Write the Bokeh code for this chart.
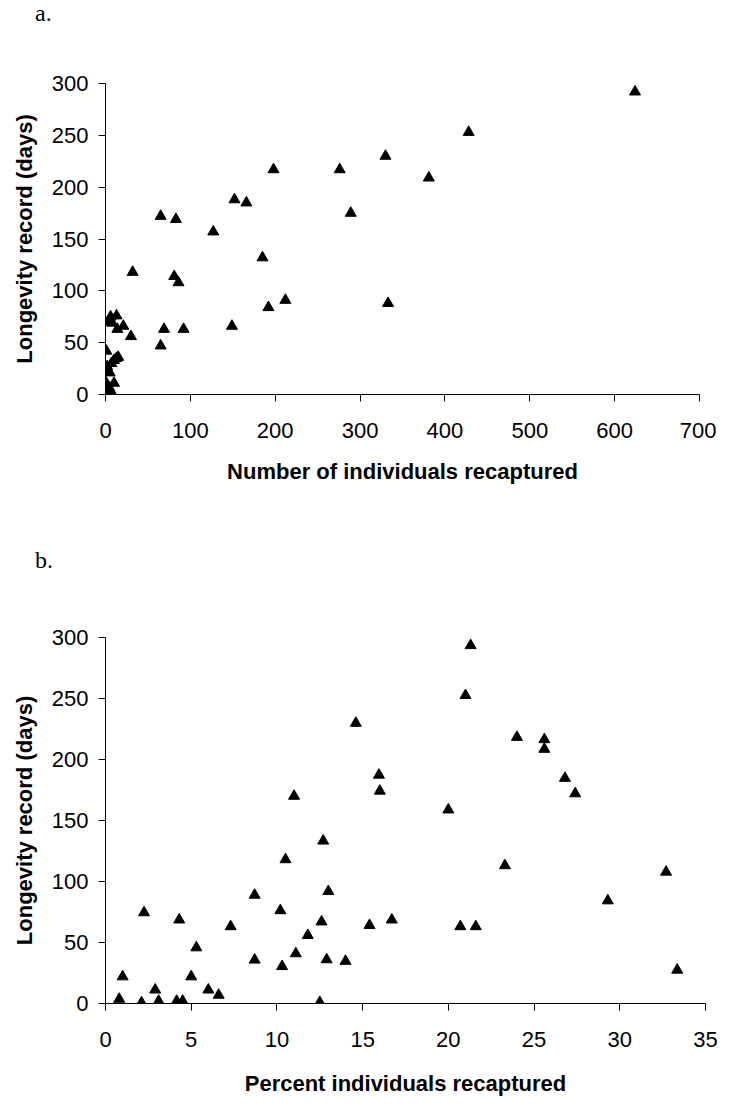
from bokeh.plotting import figure
from bokeh.models import Range1d, FixedTicker, Div
from bokeh.layouts import column
from bokeh.embed import file_html
from bokeh.resources import INLINE

# ---- Panel a: number of individuals recaptured vs longevity record ----
recap_number = [624, 428, 330, 381, 333, 276, 289, 198, 152, 166, 127, 65,
                83, 185, 32, 81, 86, 212, 192, 149, 69, 92, 65, 30,
                6, 13, 3, 8, 14, 21, 1, 15, 13, 10, 7, 2,
                3, 5, 1, 10, 4, 2, 3, 6, 8, 1, 5]
longevity_a = [292, 253, 230, 209, 88, 217, 175, 217, 188, 185, 157, 172,
               169, 132, 118, 114, 108, 91, 84, 66, 63, 63, 47, 56,
               75, 76, 70, 69, 63, 66, 42, 36, 35, 33, 30, 27,
               23, 21, 11, 11, 7, 4, 2, 2, 1, 1, 0.5]

# ---- Panel b: percent individuals recaptured vs longevity record ----
recap_percent = [0.8, 1.0, 2.25, 2.1, 2.9, 3.1, 4.3, 4.15, 4.5, 5.0, 5.3, 6.0,
                 6.6, 7.3, 8.7, 8.7, 10.2, 10.3, 10.5, 11.0, 11.1, 11.8, 12.5, 12.6,
                 12.7, 13.0, 12.9, 14.0, 14.6, 15.4, 15.95, 16.0, 16.7, 20.0, 20.7,
                 21.0, 21.3, 21.6, 23.3, 24.0, 25.6, 25.6, 26.8, 27.4, 29.3, 32.7, 33.35]
longevity_b = [3.6, 22, 74.5, 0.7, 11.2, 2, 68.6, 2, 2, 22, 45.8, 11.2,
               6.9, 63.1, 88.9, 35.7, 76.2, 30.4, 118, 170, 40.9, 55.9, 1, 67,
               133.3, 91.9, 36, 34.7, 229.8, 64.1, 187.3, 174.2, 68.6, 158.8, 63.1,
               252.6, 293.5, 63.1, 113.1, 218.3, 216.4, 208.5, 184.7, 172, 84.3, 107.8, 27.5]

x_ticks_a = [0, 100, 200, 300, 400, 500, 600, 700]
x_ticks_b = [0, 5, 10, 15, 20, 25, 30, 35]
y_ticks = [0, 50, 100, 150, 200, 250, 300]
panel_labels = ["a.", "b."]

SANS = "Liberation Sans"
SERIF = "Liberation Serif"


def style(p, xticks, xlabel, ylabel, tick_standoff_x, label_standoff_x):
    p.xaxis.ticker = FixedTicker(ticks=xticks)
    p.yaxis.ticker = FixedTicker(ticks=y_ticks)
    p.xgrid.visible = False
    p.ygrid.visible = False
    p.outline_line_color = None
    p.xaxis.axis_label = xlabel
    p.yaxis.axis_label = ylabel
    for ax in (p.xaxis, p.yaxis):
        ax.axis_line_color = "black"
        ax.axis_line_width = 1
        ax.major_tick_line_color = "black"
        ax.major_tick_in = 0
        ax.major_tick_out = 7
        ax.minor_tick_line_color = None
        ax.major_label_text_font = SANS
        ax.major_label_text_font_size = "22px"
        ax.major_label_text_color = "black"
        ax.axis_label_text_font = SANS
        ax.axis_label_text_font_size = "22px"
        ax.axis_label_text_font_style = "bold"
        ax.axis_label_text_color = "black"
    p.xaxis.major_label_standoff = tick_standoff_x
    p.xaxis.axis_label_standoff = label_standoff_x
    p.yaxis.major_label_standoff = 10
    p.yaxis.axis_label_standoff = 12


def panel_label(txt):
    html = ('<div style="font-family: \'Liberation Serif\'; font-size: 24px; '
            'line-height: 26px; padding-left: 35px; color: black;">%s</div>' % txt)
    return Div(text=html, width=300, height=30, margin=0)


# Panel a figure
p1 = figure(frame_width=594, frame_height=311, output_backend="svg",
            toolbar_location=None, x_range=Range1d(0, 700), y_range=Range1d(0, 300),
            min_border_left=102, min_border_right=20, min_border_top=53,
            min_border_bottom=153)
style(p1, x_ticks_a, "Number of individuals recaptured", "Longevity record (days)", 21, 18)
p1.scatter(recap_number, longevity_a, marker="triangle", size=11,
           fill_color="black", line_color="black")

# Panel b figure
p2 = figure(frame_width=600, frame_height=366, output_backend="svg",
            toolbar_location=None, x_range=Range1d(0, 35), y_range=Range1d(0, 300),
            min_border_left=105, min_border_right=15, min_border_top=60,
            min_border_bottom=98)
style(p2, x_ticks_b, "Percent individuals recaptured", "Longevity record (days)", 21, 21)
p2.scatter(recap_percent, longevity_b, marker="triangle", size=11,
           fill_color="black", line_color="black")

layout = column(panel_label(panel_labels[0]), p1,
                panel_label(panel_labels[1]), p2, spacing=0)
open("out.html", "w").write(file_html(layout, INLINE))
